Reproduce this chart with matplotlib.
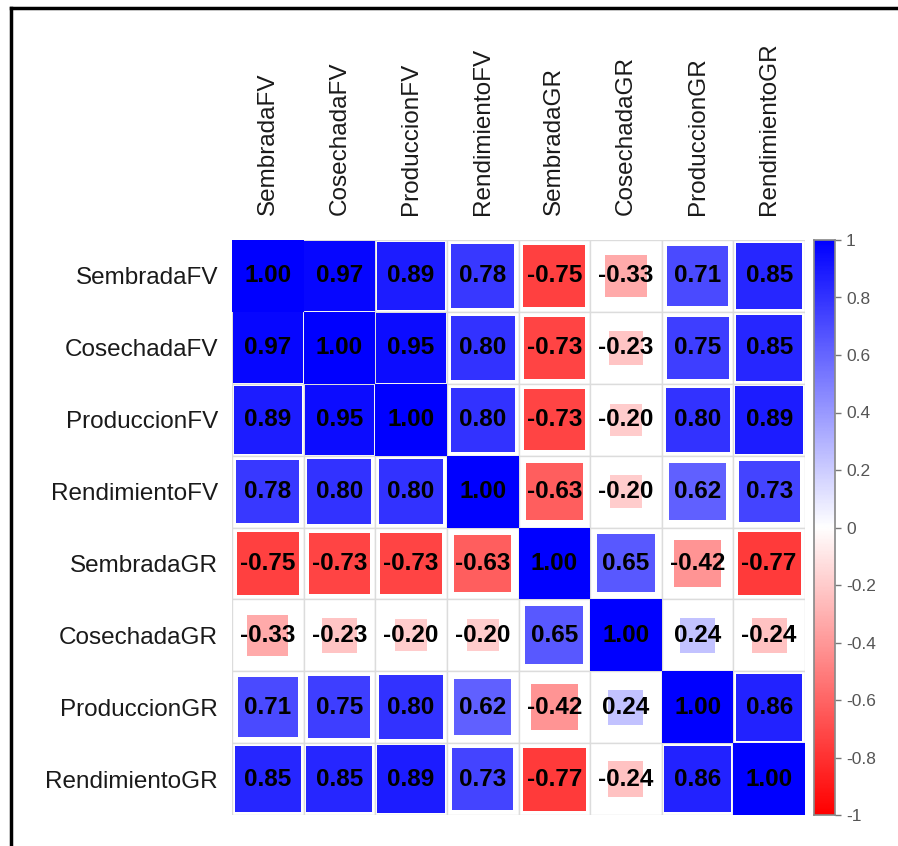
import numpy as np
import matplotlib
matplotlib.use("Agg")
import matplotlib.pyplot as plt
from matplotlib.patches import Rectangle
from matplotlib.colors import LinearSegmentedColormap
from matplotlib.lines import Line2D

labels = ["SembradaFV", "CosechadaFV", "ProduccionFV", "RendimientoFV",
          "SembradaGR", "CosechadaGR", "ProduccionGR", "RendimientoGR"]

corr = [
    [1.00, 0.97, 0.89, 0.78, -0.75, -0.33, 0.71, 0.85],
    [0.97, 1.00, 0.95, 0.80, -0.73, -0.23, 0.75, 0.85],
    [0.89, 0.95, 1.00, 0.80, -0.73, -0.20, 0.80, 0.89],
    [0.78, 0.80, 0.80, 1.00, -0.63, -0.20, 0.62, 0.73],
    [-0.75, -0.73, -0.73, -0.63, 1.00, 0.65, -0.42, -0.77],
    [-0.33, -0.23, -0.20, -0.20, 0.65, 1.00, 0.24, -0.24],
    [0.71, 0.75, 0.80, 0.62, -0.42, 0.24, 1.00, 0.86],
    [0.85, 0.85, 0.89, 0.73, -0.77, -0.24, 0.86, 1.00],
]

cbar_ticks = [1, 0.8, 0.6, 0.4, 0.2, 0, -0.2, -0.4, -0.6, -0.8, -1]
cbar_ticklabels = ["1", "0.8", "0.6", "0.4", "0.2", "0", "-0.2", "-0.4", "-0.6", "-0.8", "-1"]

plt.rcParams['font.family'] = ['Liberation Sans', 'DejaVu Sans']

cmap = LinearSegmentedColormap.from_list("rwb", ["#FF0000", "#FFFFFF", "#0000FF"])

W, H = 898, 846
fig = plt.figure(figsize=(W / 100, H / 100), dpi=100)
fig.patch.set_facecolor("white")

# figure border (left and top)
fig.add_artist(Line2D([11 / W, 11 / W], [-0.01, 1 - 8 / H], transform=fig.transFigure,
                      color="black", lw=2.5, solid_capstyle="projecting"))
fig.add_artist(Line2D([11 / W, 1.02], [1 - 8 / H, 1 - 8 / H], transform=fig.transFigure,
                      color="black", lw=2.5, solid_capstyle="projecting"))

x0, x1 = 232, 805
y0, y1 = 240, 815
ax = fig.add_axes([x0 / W, 1 - y1 / H, (x1 - x0) / W, (y1 - y0) / H])

n = len(labels)
M = np.array(corr)
for i in range(n):
    for j in range(n):
        ax.add_patch(Rectangle((j, i), 1, 1, facecolor="white", edgecolor="#dcdcdc", lw=1.0))
for i in range(n):
    for j in range(n):
        r = M[i, j]
        s = np.sqrt(abs(r))
        col = cmap((r + 1) / 2)
        ax.add_patch(Rectangle((j + 0.5 - s / 2, i + 0.5 - s / 2), s, s,
                               facecolor=col, edgecolor="none"))
        ax.text(j + 0.5, i + 0.5, f"{r:.2f}", ha="center", va="center",
                fontsize=17.5, fontweight="bold", color="black")

ax.set_xlim(0, n)
ax.set_ylim(n, 0)
for sp in ax.spines.values():
    sp.set_visible(False)
ax.set_xticks(np.arange(n) + 0.5)
ax.set_yticks(np.arange(n) + 0.5)
ax.xaxis.tick_top()
ax.set_xticklabels(labels, rotation=90, fontsize=17.5, color="#1a1a1a")
ax.set_yticklabels(labels, fontsize=17.5, color="#1a1a1a")
ax.tick_params(axis="x", length=0, pad=18)
ax.tick_params(axis="y", length=0, pad=10)

# colorbar
cax = fig.add_axes([814 / W, 1 - y1 / H, 21 / W, (y1 - y0) / H])
grad = np.linspace(-1, 1, 400).reshape(-1, 1)
cax.imshow(grad, aspect="auto", cmap=cmap, origin="lower", extent=[0, 1, -1, 1], vmin=-1, vmax=1)
cax.set_xlim(0, 1)
cax.set_ylim(-1, 1)
cax.set_xticks([])
cax.yaxis.tick_right()
cax.set_yticks(cbar_ticks)
cax.set_yticklabels(cbar_ticklabels, fontsize=12.5, color="#555555")
cax.tick_params(axis="y", length=4, width=1, color="#777777", pad=4)
for sp in cax.spines.values():
    sp.set_color("#888888")
    sp.set_linewidth(1.2)

fig.savefig("out.png", dpi=100, facecolor="white")
